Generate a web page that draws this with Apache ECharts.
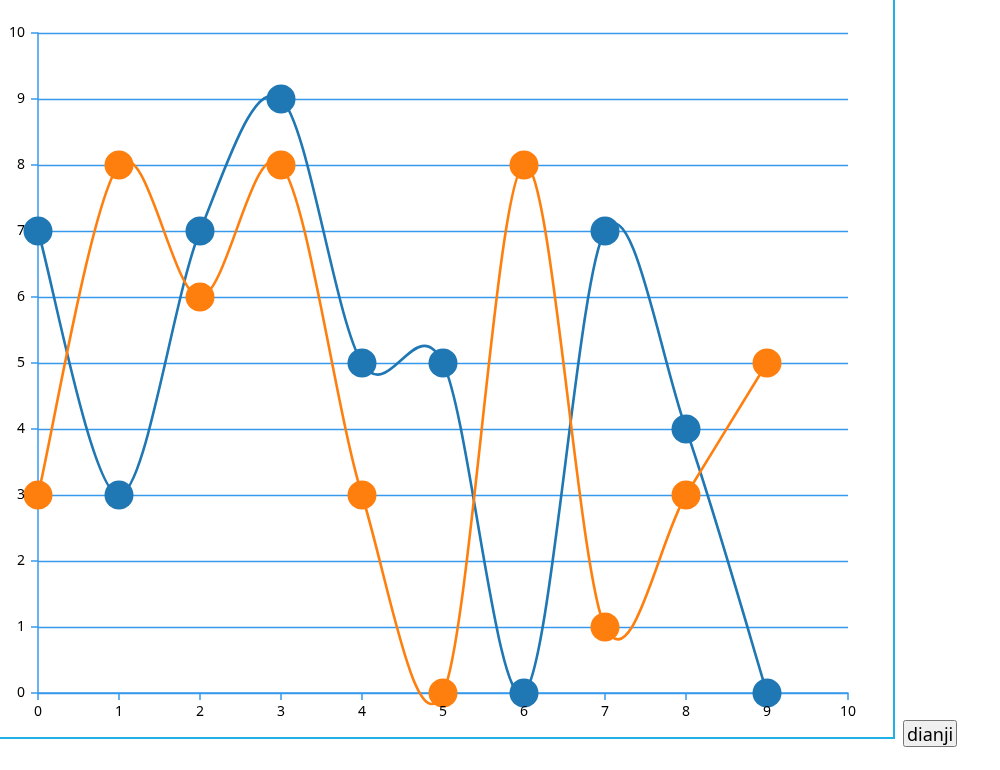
<!DOCTYPE html>
<html><head><meta charset="utf-8">
<script src="https://cdn.jsdelivr.net/npm/echarts@6/dist/echarts.min.js"></script>
<style>
  html, body { margin: 0; padding: 0; background: #fff; overflow: hidden; }
  #box { position: absolute; left: -2px; top: -2px; width: 893px; height: 737px; border: 2px solid #1fb0e6; }
  #main { position: absolute; left: 0; top: 0; width: 1000px; height: 770px; }
  #btn { position: absolute; left: 903px; top: 720px; height: 27px; padding: 0 2px; font: 18px 'Segoe UI', 'Noto Sans', sans-serif; }
</style>
</head><body>
<div id="box"></div>
<div id="main"></div>
<button id="btn">dianji</button>
<script>
// 两条折线的数据，x 为 0..9
var xs = [0, 1, 2, 3, 4, 5, 6, 7, 8, 9]
var blueVals = [7, 3, 7, 9, 5, 5, 0, 7, 4, 0]
var orangeVals = [3, 8, 6, 8, 3, 0, 8, 1, 3, 5]
var axisColor = '#3799ec'
var blue = '#1f77b4'
var orange = '#ff7f0e'

function pairs (vals) {
  return xs.map(function (x, i) { return [x, vals[i]] })
}

// cardinal 曲线（张力 0），每个数据项画它到下一个点的那一段
function curveSeries (vals, color) {
  var data = pairs(vals)
  return {
    type: 'custom',
    data: data,
    silent: true,
    renderItem: function (params, api) {
      var i = params.dataIndex
      var n = data.length
      if (i >= n - 1) return null
      var p0 = api.coord(data[Math.max(i - 1, 0)])
      var p1 = api.coord(data[i])
      var p2 = api.coord(data[i + 1])
      var p3 = api.coord(data[Math.min(i + 2, n - 1)])
      return {
        type: 'bezierCurve',
        shape: {
          x1: p1[0], y1: p1[1], x2: p2[0], y2: p2[1],
          cpx1: p1[0] + (p2[0] - p0[0]) / 6, cpy1: p1[1] + (p2[1] - p0[1]) / 6,
          cpx2: p2[0] - (p3[0] - p1[0]) / 6, cpy2: p2[1] - (p3[1] - p1[1]) / 6
        },
        style: { stroke: color, lineWidth: 2.6, fill: null }
      }
    }
  }
}

function dotSeries (vals, color) {
  return {
    type: 'scatter', data: pairs(vals), symbolSize: 29,
    itemStyle: { color: color, opacity: 1 }
  }
}

var font = { color: '#000', fontSize: 14, fontFamily: "'Segoe UI', 'Noto Sans', sans-serif" }
var lineAxis = {
  type: 'value', min: 0, max: 10, interval: 1,
  axisLine: { show: true, lineStyle: { color: axisColor, width: 1.5 } },
  axisTick: { show: true, length: 7, lineStyle: { color: axisColor, width: 1.5 } },
  axisLabel: { show: false },
  z: 0
}
var labelAxis = {
  type: 'value', min: 0, max: 10, interval: 1,
  axisLine: { show: false }, axisTick: { show: false }, splitLine: { show: false },
  axisLabel: Object.assign({ margin: 12 }, font),
  z: 10
}

var chart = echarts.init(document.getElementById('main'))
chart.setOption({
  animation: false,
  grid: { left: 38, right: 152, top: 33, bottom: 77 },
  xAxis: [
    Object.assign({ position: 'bottom', splitLine: { show: false } }, lineAxis),
    Object.assign({ position: 'bottom', offset: 0 }, labelAxis)
  ],
  yAxis: [
    Object.assign({ position: 'left', splitLine: { show: true, lineStyle: { color: [axisColor], width: 1.3, type: 'solid' } } }, lineAxis),
    Object.assign({ position: 'left', offset: 0 }, labelAxis, { axisLabel: Object.assign({ margin: 13 }, font) })
  ],
  series: [
    curveSeries(blueVals, blue),
    curveSeries(orangeVals, orange),
    dotSeries(blueVals, blue),
    dotSeries(orangeVals, orange)
  ]
})
</script>
</body></html>
